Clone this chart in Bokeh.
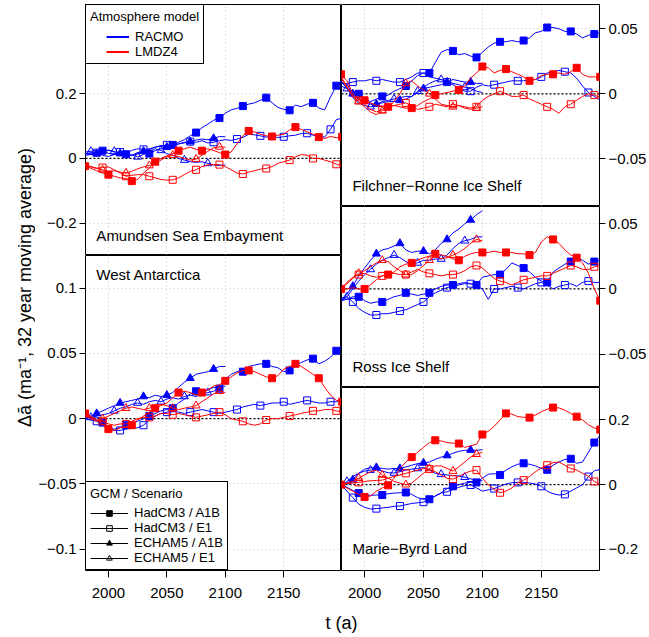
import math
from bokeh.plotting import figure
from bokeh.models import Range1d, LinearAxis, FixedTicker, Grid, Span, Label, Legend, LegendItem
from bokeh.layouts import row, column
from bokeh.embed import file_html
from bokeh.resources import INLINE

# ---------------------------------------------------------------- data
YEARS_HADCM3 = list(range(1980, 2201, 5))   # 45 points
YEARS_ECHAM5 = list(range(1980, 2101, 5))   # 25 points
X_TICKS = [2000, 2050, 2100, 2150]

# Amundsen Sea Embayment
ASE_RACMO_HADCM3_A1B = [0.014, 0.018, 0.020, 0.024, 0.016,
                        0.012, 0.014, 0.013, 0.010, 0.014,
                        0.016, 0.015, 0.024, 0.030, 0.036,
                        0.042, 0.050, 0.058, 0.070, 0.080,
                        0.095, 0.106, 0.118, 0.125, 0.140,
                        0.150, 0.155, 0.162, 0.168, 0.172,
                        0.180, 0.188, 0.172, 0.158, 0.152,
                        0.149, 0.165, 0.160, 0.168, 0.172,
                        0.156, 0.150, 0.190, 0.225, 0.242]
ASE_RACMO_HADCM3_E1 = [0.015, 0.012, 0.018, 0.010, 0.006,
                       0.012, 0.020, 0.015, 0.025, 0.030,
                       0.028, 0.030, 0.035, 0.038, 0.042,
                       0.040, 0.045, 0.048, 0.052, 0.050,
                       0.055, 0.048, 0.050, 0.055, 0.058,
                       0.056, 0.060, 0.065, 0.075, 0.073,
                       0.070, 0.066, 0.068, 0.065, 0.067,
                       0.070, 0.072, 0.077, 0.078, 0.072,
                       0.070, 0.066, 0.090, 0.120, 0.125]
ASE_RACMO_ECHAM5_A1B = [0.010, 0.012, 0.015, 0.020, 0.025,
                        0.020, 0.015, 0.012, 0.010, 0.018,
                        0.022, 0.028, 0.035, 0.040, 0.035,
                        0.040, 0.045, 0.050, 0.052, 0.057,
                        0.060, 0.058, 0.062, 0.068, 0.067]
ASE_RACMO_ECHAM5_E1 = [0.020, 0.022, 0.025, 0.020, 0.026,
                       0.022, 0.015, 0.012, 0.010, 0.005,
                       0.012, 0.020, 0.030, 0.025, 0.015,
                       0.010, 0.000, -0.005, -0.010, -0.012,
                       -0.010, -0.015, -0.020, -0.022, -0.020]
ASE_LMDZ4_HADCM3_A1B = [-0.024, -0.030, -0.038, -0.045, -0.050,
                        -0.055, -0.060, -0.062, -0.070, -0.065,
                        -0.045, -0.030, -0.010, 0.000, 0.008,
                        0.015, 0.024, 0.030, 0.035, 0.028,
                        0.024, 0.030, 0.025, 0.018, 0.012,
                        0.020, 0.045, 0.070, 0.085, 0.082,
                        0.075, 0.070, 0.068, 0.072, 0.075,
                        0.088, 0.097, 0.090, 0.082, 0.075,
                        0.066, 0.062, 0.068, 0.064, 0.067]
ASE_LMDZ4_HADCM3_E1 = [-0.020, -0.025, -0.030, -0.028, -0.026,
                       -0.035, -0.045, -0.055, -0.052, -0.050,
                       -0.050, -0.055, -0.060, -0.065, -0.067,
                       -0.066, -0.060, -0.050, -0.040, -0.035,
                       -0.025, -0.020, -0.019, -0.019, -0.025,
                       -0.035, -0.045, -0.048, -0.042, -0.038,
                       -0.033, -0.031, -0.025, -0.015, -0.010,
                       -0.005, 0.005, 0.012, 0.010, 0.000,
                       0.000, -0.005, -0.010, -0.018, -0.023]
ASE_LMDZ4_ECHAM5_E1 = [-0.020, -0.026, -0.031, -0.035, -0.040,
                       -0.038, -0.042, -0.045, -0.040, -0.032,
                       -0.026, -0.022, -0.015, -0.005, 0.005,
                       0.010, 0.006, 0.000, -0.005, -0.002,
                       0.010, 0.022, 0.033, 0.036, 0.035]

# West Antarctica
WA_RACMO_HADCM3_A1B = [0.001, 0.001, -0.001, -0.003, -0.007,
                       -0.008, -0.007, -0.005, -0.004, -0.002,
                       0.000, 0.002, 0.004, 0.006, 0.007,
                       0.008, 0.012, 0.015, 0.019, 0.021,
                       0.020, 0.022, 0.024, 0.023, 0.030,
                       0.034, 0.036, 0.036, 0.040, 0.041,
                       0.042, 0.042, 0.040, 0.039, 0.036,
                       0.037, 0.041, 0.043, 0.045, 0.046,
                       0.042, 0.044, 0.047, 0.052, 0.056]
WA_RACMO_HADCM3_E1 = [0.000, -0.001, -0.002, -0.005, -0.008,
                      -0.009, -0.009, -0.008, -0.007, -0.007,
                      -0.005, -0.001, 0.002, 0.004, 0.005,
                      0.006, 0.005, 0.004, 0.005, 0.006,
                      0.007, 0.006, 0.005, 0.004, 0.005,
                      0.006, 0.007, 0.009, 0.010, 0.011,
                      0.010, 0.011, 0.012, 0.012, 0.013,
                      0.011, 0.012, 0.013, 0.014, 0.013,
                      0.012, 0.012, 0.013, 0.013, 0.014]
WA_RACMO_ECHAM5_A1B = [0.000, 0.002, 0.004, 0.006, 0.008,
                       0.010, 0.012, 0.013, 0.014, 0.015,
                       0.017, 0.016, 0.018, 0.017, 0.018,
                       0.020, 0.024, 0.028, 0.031, 0.034,
                       0.035, 0.036, 0.038, 0.040, 0.040]
WA_RACMO_ECHAM5_E1 = [0.000, 0.001, 0.002, 0.003, 0.004,
                      0.006, 0.008, 0.009, 0.011, 0.012,
                      0.011, 0.013, 0.014, 0.013, 0.015,
                      0.016, 0.015, 0.017, 0.018, 0.017,
                      0.019, 0.020, 0.021, 0.024, 0.025]
WA_LMDZ4_HADCM3_A1B = [0.004, 0.002, -0.001, -0.004, -0.008,
                       -0.009, -0.007, -0.006, -0.005, -0.001,
                       0.002, 0.005, 0.008, 0.010, 0.012,
                       0.016, 0.020, 0.021, 0.020, 0.018,
                       0.020, 0.022, 0.025, 0.026, 0.029,
                       0.032, 0.035, 0.037, 0.037, 0.036,
                       0.034, 0.032, 0.031, 0.033, 0.038,
                       0.040, 0.042, 0.040, 0.037, 0.034,
                       0.031, 0.024, 0.018, 0.014, 0.013]
WA_LMDZ4_HADCM3_E1 = [0.003, 0.001, -0.001, -0.002, -0.004,
                      -0.005, -0.004, -0.004, -0.002, 0.000,
                      0.001, 0.001, 0.002, 0.004, 0.004,
                      0.003, 0.004, 0.003, 0.002, 0.001,
                      0.002, 0.003, 0.004, 0.005, 0.003,
                      0.000, -0.001, -0.002, -0.004, -0.005,
                      -0.004, -0.001, 0.000, 0.000, 0.001,
                      0.002, 0.003, 0.004, 0.005, 0.006,
                      0.006, 0.007, 0.007, 0.006, 0.005]
WA_LMDZ4_ECHAM5_E1 = [0.002, 0.000, -0.002, 0.000, 0.002,
                      0.004, 0.006, 0.008, 0.009, 0.008,
                      0.007, 0.008, 0.010, 0.011, 0.010,
                      0.008, 0.007, 0.008, 0.009, 0.010,
                      0.013, 0.016, 0.019, 0.021, 0.020]

# Filchner-Ronne Ice Shelf
FRIS_RACMO_HADCM3_A1B = [0.006, 0.004, 0.002, 0.000, -0.004,
                         -0.006, -0.004, -0.002, -0.001, 0.002,
                         0.004, 0.006, 0.010, 0.014, 0.016,
                         0.016, 0.024, 0.032, 0.034, 0.033,
                         0.030, 0.031, 0.029, 0.028, 0.032,
                         0.036, 0.039, 0.040, 0.040, 0.041,
                         0.040, 0.041, 0.043, 0.047, 0.048,
                         0.051, 0.051, 0.050, 0.048, 0.048,
                         0.046, 0.043, 0.045, 0.046, 0.047]
FRIS_RACMO_HADCM3_E1 = [0.008, 0.008, 0.009, 0.010, 0.010,
                        0.011, 0.010, 0.011, 0.010, 0.009,
                        0.009, 0.011, 0.013, 0.016, 0.016,
                        0.013, 0.012, 0.011, 0.009, 0.007,
                        0.004, 0.002, 0.002, 0.005, 0.007,
                        0.006, 0.007, 0.008, 0.009, 0.010,
                        0.010, 0.010, 0.011, 0.011, 0.013,
                        0.016, 0.017, 0.018, 0.017, 0.016,
                        0.012, 0.006, 0.001, -0.002, -0.005]
FRIS_RACMO_ECHAM5_A1B = [0.009, 0.005, 0.000, -0.004, -0.007,
                         -0.008, -0.008, -0.007, -0.006, -0.006,
                         -0.005, -0.004, -0.002, 0.001, 0.004,
                         0.005, 0.006, 0.007, 0.009, 0.011,
                         0.010, 0.009, 0.009, 0.008, 0.008]
FRIS_RACMO_ECHAM5_E1 = [0.010, 0.004, -0.003, -0.007, -0.009,
                        -0.010, -0.008, -0.006, -0.005, -0.004,
                        -0.003, -0.002, -0.002, 0.002, 0.005,
                        0.008, 0.010, 0.011, 0.010, 0.008,
                        0.007, 0.005, 0.004, 0.002, 0.001]
FRIS_LMDZ4_HADCM3_A1B = [0.015, 0.010, 0.000, -0.004, -0.005,
                         -0.007, -0.009, -0.010, -0.010, -0.009,
                         -0.010, -0.011, -0.011, -0.009, -0.006,
                         -0.004, -0.001, 0.000, 0.001, 0.002,
                         0.003, 0.006, 0.012, 0.016, 0.021,
                         0.020, 0.016, 0.018, 0.019, 0.017,
                         0.015, 0.013, 0.010, 0.011, 0.014,
                         0.015, 0.015, 0.016, 0.015, 0.017,
                         0.020, 0.015, 0.013, 0.013, 0.013]
FRIS_LMDZ4_HADCM3_E1 = [0.012, 0.005, -0.002, -0.005, -0.008,
                        -0.012, -0.014, -0.012, -0.010, -0.009,
                        -0.008, -0.007, -0.009, -0.012, -0.011,
                        -0.010, -0.008, -0.009, -0.010, -0.008,
                        -0.009, -0.010, -0.011, -0.010, -0.005,
                        -0.002, 0.000, 0.002, 0.000, -0.002,
                        -0.002, -0.001, -0.004, -0.006, -0.008,
                        -0.010, -0.012, -0.015, -0.010, -0.008,
                        -0.005, -0.002, 0.000, -0.001, -0.003]
FRIS_LMDZ4_ECHAM5_E1 = [0.013, 0.006, -0.002, -0.006, -0.010,
                        -0.014, -0.016, -0.013, -0.011, -0.006,
                        0.000, 0.008, 0.010, 0.006, 0.003,
                        0.000, -0.004, -0.008, -0.009, -0.010,
                        -0.009, -0.011, -0.012, -0.011, -0.010]

# Ross Ice Shelf
ROSS_RACMO_HADCM3_A1B = [-0.009, -0.008, -0.006, -0.006, -0.009,
                         -0.011, -0.010, -0.010, -0.008, -0.006,
                         -0.005, -0.003, -0.004, -0.005, -0.004,
                         -0.003, 0.000, 0.002, 0.003, 0.003,
                         0.004, 0.005, 0.004, 0.003, 0.009,
                         0.010, 0.011, 0.011, 0.015, 0.020,
                         0.018, 0.016, 0.013, 0.009, 0.006,
                         0.005, 0.013, 0.016, 0.019, 0.021,
                         0.024, 0.022, 0.019, 0.021, 0.022]
ROSS_RACMO_HADCM3_E1 = [-0.007, -0.006, -0.010, -0.015, -0.018,
                        -0.020, -0.020, -0.019, -0.019, -0.018,
                        -0.017, -0.016, -0.014, -0.012, -0.010,
                        -0.006, -0.003, -0.001, 0.001, 0.002,
                        0.003, 0.004, 0.004, 0.002, 0.000,
                        -0.008, 0.000, 0.000, 0.001, 0.002,
                        0.001, 0.000, 0.002, 0.004, 0.005,
                        0.003, 0.000, 0.002, 0.003, 0.004,
                        0.002, 0.005, 0.006, 0.005, 0.005]
ROSS_RACMO_ECHAM5_A1B = [-0.009, -0.004, 0.002, 0.010, 0.016,
                         0.022, 0.027, 0.030, 0.031, 0.033,
                         0.035, 0.030, 0.028, 0.029, 0.029,
                         0.027, 0.030, 0.035, 0.038, 0.043,
                         0.046, 0.050, 0.053, 0.057, 0.060]
ROSS_RACMO_ECHAM5_E1 = [-0.009, -0.006, 0.000, 0.006, 0.011,
                        0.015, 0.019, 0.022, 0.024, 0.026,
                        0.024, 0.021, 0.019, 0.020, 0.022,
                        0.022, 0.023, 0.023, 0.026, 0.031,
                        0.035, 0.037, 0.038, 0.040, 0.040]
ROSS_LMDZ4_HADCM3_A1B = [0.000, 0.000, 0.001, 0.000, 0.000,
                         0.003, 0.007, 0.010, 0.011, 0.013,
                         0.017, 0.019, 0.020, 0.022, 0.024,
                         0.025, 0.027, 0.026, 0.025, 0.023,
                         0.022, 0.025, 0.027, 0.028, 0.028,
                         0.028, 0.029, 0.028, 0.028, 0.028,
                         0.027, 0.027, 0.026, 0.028, 0.036,
                         0.040, 0.038, 0.035, 0.030, 0.026,
                         0.024, 0.020, 0.012, 0.000, -0.009]
ROSS_LMDZ4_HADCM3_E1 = [0.000, 0.005, 0.009, 0.011, 0.012,
                        0.010, 0.009, 0.010, 0.011, 0.012,
                        0.011, 0.011, 0.013, 0.015, 0.013,
                        0.012, 0.011, 0.010, 0.011, 0.011,
                        0.012, 0.014, 0.017, 0.018, 0.016,
                        0.012, 0.008, 0.006, 0.005, 0.003,
                        0.005, 0.007, 0.008, 0.009, 0.010,
                        0.010, 0.012, 0.014, 0.016, 0.018,
                        0.017, 0.015, 0.015, 0.017, 0.018]
ROSS_LMDZ4_ECHAM5_E1 = [0.000, 0.004, 0.008, 0.012, 0.014,
                        0.017, 0.020, 0.022, 0.021, 0.017,
                        0.014, 0.011, 0.011, 0.014, 0.018,
                        0.022, 0.025, 0.023, 0.024, 0.026,
                        0.028, 0.031, 0.035, 0.038, 0.037]

# Marie-Byrd Land
MBL_RACMO_HADCM3_A1B = [0.000, -0.008, -0.018, -0.026, -0.030,
                        -0.033, -0.032, -0.032, -0.028, -0.026,
                        -0.025, -0.024, -0.030, -0.040, -0.045,
                        -0.045, -0.035, -0.025, -0.012, -0.005,
                        0.000, 0.005, 0.007, 0.007, 0.020,
                        0.032, 0.034, 0.030, 0.045, 0.055,
                        0.063, 0.066, 0.063, 0.058, 0.050,
                        0.046, 0.060, 0.070, 0.078, 0.080,
                        0.066, 0.070, 0.100, 0.130, 0.153]
MBL_RACMO_HADCM3_E1 = [0.000, -0.020, -0.040, -0.060, -0.070,
                       -0.075, -0.074, -0.072, -0.070, -0.067,
                       -0.066, -0.062, -0.058, -0.056, -0.054,
                       -0.045, -0.035, -0.026, -0.022, -0.015,
                       -0.008, -0.003, -0.001, -0.010, -0.020,
                       -0.016, -0.012, -0.005, 0.002, 0.006,
                       0.007, 0.007, 0.005, 0.002, -0.005,
                       -0.020, -0.028, -0.032, -0.030, -0.020,
                       -0.010, 0.000, 0.025, 0.043, 0.047]
MBL_RACMO_ECHAM5_A1B = [0.000, 0.005, 0.015, 0.035, 0.048,
                        0.052, 0.053, 0.050, 0.048, 0.050,
                        0.050, 0.055, 0.060, 0.065, 0.067,
                        0.070, 0.078, 0.085, 0.090, 0.097,
                        0.103, 0.106, 0.107, 0.106, 0.108]
MBL_RACMO_ECHAM5_E1 = [-0.005, 0.010, 0.025, 0.035, 0.042,
                       0.045, 0.046, 0.042, 0.037, 0.036,
                       0.040, 0.045, 0.048, 0.050, 0.053,
                       0.045, 0.035, 0.032, 0.030, 0.028,
                       0.027, 0.023, 0.018, 0.014, 0.012]
MBL_LMDZ4_HADCM3_A1B = [0.000, -0.010, -0.020, -0.030, -0.038,
                        -0.035, -0.020, -0.010, -0.002, 0.020,
                        0.050, 0.070, 0.085, 0.100, 0.115,
                        0.130, 0.137, 0.135, 0.130, 0.128,
                        0.127, 0.115, 0.120, 0.125, 0.155,
                        0.165, 0.180, 0.200, 0.220, 0.218,
                        0.210, 0.208, 0.207, 0.215, 0.225,
                        0.233, 0.238, 0.237, 0.230, 0.220,
                        0.210, 0.200, 0.185, 0.175, 0.170]
MBL_LMDZ4_HADCM3_E1 = [0.000, 0.003, 0.005, 0.007, 0.010,
                       0.012, 0.013, 0.014, 0.020, 0.025,
                       0.030, 0.035, 0.040, 0.045, 0.050,
                       0.048, 0.040, 0.030, 0.020, 0.017,
                       0.025, 0.035, 0.042, 0.045, 0.020,
                       0.000, -0.015, -0.025, -0.020, -0.010,
                       0.005, 0.014, 0.025, 0.040, 0.052,
                       0.060, 0.068, 0.070, 0.060, 0.050,
                       0.045, 0.035, 0.026, 0.010, 0.000]
MBL_LMDZ4_ECHAM5_E1 = [0.000, 0.005, 0.010, 0.020, 0.030,
                       0.040, 0.045, 0.030, 0.020, 0.010,
                       0.005, 0.000, 0.005, 0.020, 0.035,
                       0.050, 0.058, 0.058, 0.050, 0.042,
                       0.055, 0.070, 0.085, 0.094, 0.100]

ASE_TICKS = [-0.2, 0, 0.2]
WA_TICKS = [-0.1, -0.05, 0, 0.05, 0.1]
FRIS_TICKS = [-0.05, 0, 0.05]
ROSS_TICKS = [-0.05, 0, 0.05]
MBL_TICKS = [-0.2, 0, 0.2]

ATMOS_MODELS = ["RACMO", "LMDZ4"]
GCM_SCENARIOS = ["HadCM3 / A1B", "HadCM3 / E1", "ECHAM5 / A1B", "ECHAM5 / E1"]

PANEL_SERIES = {
    "ase": [("RACMO", "HadCM3", "A1B", ASE_RACMO_HADCM3_A1B), ("RACMO", "HadCM3", "E1", ASE_RACMO_HADCM3_E1),
            ("RACMO", "ECHAM5", "A1B", ASE_RACMO_ECHAM5_A1B), ("RACMO", "ECHAM5", "E1", ASE_RACMO_ECHAM5_E1),
            ("LMDZ4", "HadCM3", "A1B", ASE_LMDZ4_HADCM3_A1B), ("LMDZ4", "HadCM3", "E1", ASE_LMDZ4_HADCM3_E1),
            ("LMDZ4", "ECHAM5", "E1", ASE_LMDZ4_ECHAM5_E1)],
    "wa": [("RACMO", "HadCM3", "A1B", WA_RACMO_HADCM3_A1B), ("RACMO", "HadCM3", "E1", WA_RACMO_HADCM3_E1),
           ("RACMO", "ECHAM5", "A1B", WA_RACMO_ECHAM5_A1B), ("RACMO", "ECHAM5", "E1", WA_RACMO_ECHAM5_E1),
           ("LMDZ4", "HadCM3", "A1B", WA_LMDZ4_HADCM3_A1B), ("LMDZ4", "HadCM3", "E1", WA_LMDZ4_HADCM3_E1),
           ("LMDZ4", "ECHAM5", "E1", WA_LMDZ4_ECHAM5_E1)],
    "fris": [("RACMO", "HadCM3", "A1B", FRIS_RACMO_HADCM3_A1B), ("RACMO", "HadCM3", "E1", FRIS_RACMO_HADCM3_E1),
             ("RACMO", "ECHAM5", "A1B", FRIS_RACMO_ECHAM5_A1B), ("RACMO", "ECHAM5", "E1", FRIS_RACMO_ECHAM5_E1),
             ("LMDZ4", "HadCM3", "A1B", FRIS_LMDZ4_HADCM3_A1B), ("LMDZ4", "HadCM3", "E1", FRIS_LMDZ4_HADCM3_E1),
             ("LMDZ4", "ECHAM5", "E1", FRIS_LMDZ4_ECHAM5_E1)],
    "ross": [("RACMO", "HadCM3", "A1B", ROSS_RACMO_HADCM3_A1B), ("RACMO", "HadCM3", "E1", ROSS_RACMO_HADCM3_E1),
             ("RACMO", "ECHAM5", "A1B", ROSS_RACMO_ECHAM5_A1B), ("RACMO", "ECHAM5", "E1", ROSS_RACMO_ECHAM5_E1),
             ("LMDZ4", "HadCM3", "A1B", ROSS_LMDZ4_HADCM3_A1B), ("LMDZ4", "HadCM3", "E1", ROSS_LMDZ4_HADCM3_E1),
             ("LMDZ4", "ECHAM5", "E1", ROSS_LMDZ4_ECHAM5_E1)],
    "mbl": [("RACMO", "HadCM3", "A1B", MBL_RACMO_HADCM3_A1B), ("RACMO", "HadCM3", "E1", MBL_RACMO_HADCM3_E1),
            ("RACMO", "ECHAM5", "A1B", MBL_RACMO_ECHAM5_A1B), ("RACMO", "ECHAM5", "E1", MBL_RACMO_ECHAM5_E1),
            ("LMDZ4", "HadCM3", "A1B", MBL_LMDZ4_HADCM3_A1B), ("LMDZ4", "HadCM3", "E1", MBL_LMDZ4_HADCM3_E1),
            ("LMDZ4", "ECHAM5", "E1", MBL_LMDZ4_ECHAM5_E1)],
}

# ---------------------------------------------------------------- style
FONT = "Liberation Sans"
COLORS = {"RACMO": "#0000ff", "LMDZ4": "#ff0000"}
MARKERS = {"HadCM3": "square", "ECHAM5": "triangle"}
MARKER_SIZE = {"HadCM3": 7, "ECHAM5": 8}
MARKER_START = {("RACMO", "HadCM3", "A1B"): 3, ("LMDZ4", "HadCM3", "A1B"): 0,
                ("RACMO", "HadCM3", "E1"): 2, ("LMDZ4", "HadCM3", "E1"): 3,
                ("RACMO", "ECHAM5", "A1B"): 2, ("RACMO", "ECHAM5", "E1"): 1,
                ("LMDZ4", "ECHAM5", "E1"): 3}
MARKER_STEP = 4
GRID_COLOR = "#c4c4c4"
TICK_FONT = "15px"
NAN = float("nan")

X_LIM = (1980.4, 2199.4)
YLAB_W = 35
LEFT_BORDER = 47
RIGHT_BORDER = 49
FRAME_W = 259
TOP = 4
BOTTOM = 36
XLAB_H = 30
FRAMES_H = 566


def fmt_tick(t):
    if t == 0:
        return "0"
    return ("%g" % t).replace("-", "\u2212")


def make_panel(key, y_lim, y_ticks, frame_h, side, top, bottom_axis, label_text, label_anchor, label_off):
    b_l = LEFT_BORDER if side == "left" else 0
    b_r = RIGHT_BORDER if side == "right" else 0
    b_b = BOTTOM if bottom_axis else 0
    p = figure(width=FRAME_W + b_l + b_r, height=frame_h + top + b_b,
               x_range=Range1d(*X_LIM), y_range=Range1d(*y_lim),
               x_axis_type=None, y_axis_type=None, toolbar_location=None,
               output_backend="svg", min_border_left=b_l, min_border_right=b_r,
               min_border_top=top, min_border_bottom=b_b)
    p.outline_line_color = "black"
    p.outline_line_width = 1
    p.outline_line_alpha = 1.0
    p.background_fill_color = "white"
    p.border_fill_color = "white"

    p.add_layout(Grid(dimension=0, ticker=FixedTicker(ticks=X_TICKS), grid_line_color=GRID_COLOR,
                      grid_line_dash="1 3", grid_line_width=1))
    p.add_layout(Grid(dimension=1, ticker=FixedTicker(ticks=y_ticks), grid_line_color=GRID_COLOR,
                      grid_line_dash="1 3", grid_line_width=1))
    p.add_layout(Span(location=0, dimension="width", line_color="black", line_dash="2 2",
                      line_width=1.2, level="underlay"))

    yax = LinearAxis(ticker=FixedTicker(ticks=y_ticks),
                     major_label_overrides={t: fmt_tick(t) for t in y_ticks})
    yax.axis_line_color = None
    yax.major_tick_out = 6
    yax.major_tick_in = 0
    yax.major_tick_line_color = "black"
    yax.minor_tick_line_color = None
    yax.major_label_standoff = 3
    yax.major_label_text_font = FONT
    yax.major_label_text_font_size = TICK_FONT
    yax.major_label_text_color = "black"
    p.add_layout(yax, side)

    if bottom_axis:
        xax = LinearAxis(ticker=FixedTicker(ticks=X_TICKS))
        xax.axis_line_color = None
        xax.major_tick_out = 7
        xax.major_tick_in = 0
        xax.major_tick_line_color = "black"
        xax.minor_tick_line_color = None
        xax.major_label_standoff = 10
        xax.major_label_text_font = FONT
        xax.major_label_text_font_size = TICK_FONT
        xax.major_label_text_color = "black"
        p.add_layout(xax, "below")

    for atm, gcm, scen, vals in PANEL_SERIES[key]:
        years = YEARS_HADCM3 if gcm == "HadCM3" else YEARS_ECHAM5
        col = COLORS[atm]
        p.line(years, vals, line_color=col, line_width=1)
        s = MARKER_START[(atm, gcm, scen)]
        mx = years[s::MARKER_STEP]
        my = vals[s::MARKER_STEP]
        filled = scen == "A1B"
        p.scatter(mx, my, marker=MARKERS[gcm], size=MARKER_SIZE[gcm], line_color=col, line_width=1,
                  fill_color=col if filled else None)

    k = frame_h / (y_lim[1] - y_lim[0])
    px_per_year = FRAME_W / (X_LIM[1] - X_LIM[0])
    ly = y_lim[0] + label_off / k if label_anchor == "bottom" else y_lim[1] - label_off / k
    p.add_layout(Label(x=X_LIM[0] + 11 / px_per_year, y=ly, text=label_text, text_font=FONT,
                       text_font_size="15px", text_baseline="middle", text_align="left",
                       text_color="black"))
    return p


p_ase = make_panel("ase", (-0.300, 0.476), ASE_TICKS, 251, "left", TOP, False,
                   "Amundsen Sea Embayment", "bottom", 20)
p_wa = make_panel("wa", (-0.1163, 0.125), WA_TICKS, FRAMES_H - 251, "left", 0, True,
                  "West Antarctica", "top", 19)
p_fris = make_panel("fris", (-0.0867, 0.0687), FRIS_TICKS, 202, "right", TOP, False,
                    "Filchner\u2212Ronne Ice Shelf", "bottom", 21)
p_ross = make_panel("ross", (-0.0757, 0.0633), ROSS_TICKS, 181, "right", 0, False,
                    "Ross Ice Shelf", "bottom", 21)
p_mbl = make_panel("mbl", (-0.265, 0.300), MBL_TICKS, FRAMES_H - 202 - 181, "right", 0, True,
                   "Marie\u2212Byrd Land", "bottom", 22)

LEGEND_STYLE = dict(margin=0, spacing=0,
                    border_line_color="black", border_line_width=1, border_line_alpha=1.0,
                    background_fill_color="white", background_fill_alpha=1.0,
                    label_text_font=FONT, label_text_font_size="13px", label_text_color="black",
                    title_text_font=FONT, title_text_font_size="13px", title_text_font_style="normal",
                    title_text_color="black")

# legend: atmosphere model (legend proxies hold no drawable point)
atm_items = []
for atm in ATMOS_MODELS:
    r = p_ase.line(x=[NAN], y=[NAN], line_color=COLORS[atm], line_width=2, line_dash="0 16 23 100")
    atm_items.append(LegendItem(label=atm, renderers=[r]))
leg1 = Legend(items=atm_items, title="Atmosphere model", location="top_left",
              padding=4, glyph_width=39, glyph_height=15, label_height=15, label_standoff=6,
              title_standoff=5, **LEGEND_STYLE)
p_ase.add_layout(leg1)

# legend: GCM / scenario
gcm_items = []
for lab in GCM_SCENARIOS:
    gcm, scen = lab.split(" / ")
    rl = p_wa.line(x=[NAN], y=[NAN], line_color="black", line_width=1)
    rm = p_wa.scatter(x=[NAN], y=[NAN], marker=MARKERS[gcm], size=6, line_color="black", line_width=1,
                      fill_color="black" if scen == "A1B" else None)
    gcm_items.append(LegendItem(label=lab, renderers=[rl, rm]))
leg2 = Legend(items=gcm_items, title="GCM / Scenario", location="bottom_left",
              padding=4, glyph_width=38, glyph_height=14, label_height=14, label_standoff=6,
              title_standoff=4, title_text_align="center", **LEGEND_STYLE)
p_wa.add_layout(leg2)

# y-axis title
col_h = TOP + FRAMES_H + BOTTOM
p_ylab = figure(width=YLAB_W, height=col_h, x_range=Range1d(0, YLAB_W), y_range=Range1d(0, col_h),
                x_axis_type=None, y_axis_type=None, toolbar_location=None, output_backend="svg",
                min_border_left=0, min_border_right=0, min_border_top=0, min_border_bottom=0)
p_ylab.outline_line_color = None
p_ylab.add_layout(Label(x=YLAB_W - 11, y=col_h - (TOP + FRAMES_H / 2), angle=math.pi / 2,
                        text="\u0394\u0101 (ma\u207b\u00b9, 32 year moving average)",
                        text_font=FONT, text_font_size="18px", text_align="center",
                        text_baseline="middle", text_color="black"))

# x-axis title
total_w = YLAB_W + LEFT_BORDER + 2 * FRAME_W + RIGHT_BORDER
p_xlab = figure(width=total_w, height=XLAB_H, x_range=Range1d(0, total_w), y_range=Range1d(0, XLAB_H),
                x_axis_type=None, y_axis_type=None, toolbar_location=None, output_backend="svg",
                min_border_left=0, min_border_right=0, min_border_top=0, min_border_bottom=0)
p_xlab.outline_line_color = None
p_xlab.add_layout(Label(x=YLAB_W + LEFT_BORDER + FRAME_W, y=XLAB_H - 16, text="t (a)",
                        text_font=FONT, text_font_size="18px", text_align="center",
                        text_baseline="middle", text_color="black"))

layout = column(row(p_ylab, column(p_ase, p_wa), column(p_fris, p_ross, p_mbl)), p_xlab)

with open("out.html", "w") as f:
    f.write(file_html(layout, INLINE, "Surface mass balance anomalies"))
